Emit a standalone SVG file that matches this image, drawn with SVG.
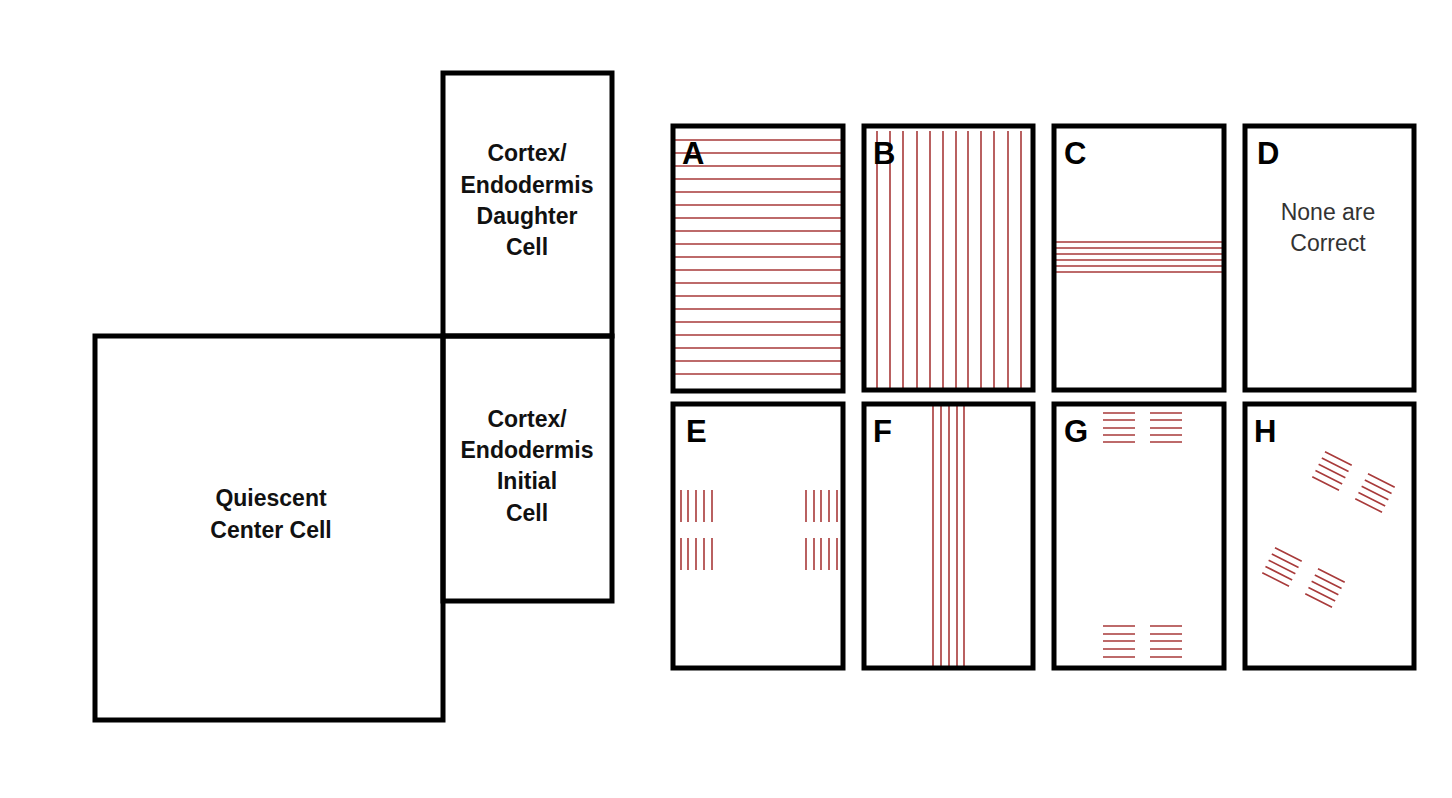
<svg xmlns="http://www.w3.org/2000/svg" width="1452" height="798" viewBox="0 0 1452 798">
<style>
.box{fill:none;stroke:#000;stroke-width:5}
.lbl{font-family:"Liberation Sans",Arial,Helvetica,sans-serif;font-weight:bold;font-size:23px;text-anchor:middle;fill:#111}
.let{font-family:"Liberation Sans",Arial,Helvetica,sans-serif;font-weight:bold;font-size:31px;fill:#000}
.nt{font-family:"Liberation Sans",Arial,Helvetica,sans-serif;font-size:23px;text-anchor:middle;fill:#333}
.r{stroke:#a83a3a;stroke-width:1.6}
</style>
<rect width="1452" height="798" fill="#fff"/>
<g id="qc"><rect class="box" x="95" y="336" width="348" height="384"/>
<text class="lbl" x="271" y="506">Quiescent</text><text class="lbl" x="271" y="538">Center  Cell</text></g>
<g id="daughter"><rect class="box" x="443" y="73" width="169" height="263"/>
<text class="lbl" x="527" y="161">Cortex/</text><text class="lbl" x="527" y="193">Endodermis</text><text class="lbl" x="527" y="224">Daughter</text><text class="lbl" x="527" y="255">Cell</text></g>
<g id="initial"><rect class="box" x="443" y="336" width="169" height="265"/>
<text class="lbl" x="527" y="427">Cortex/</text><text class="lbl" x="527" y="458">Endodermis</text><text class="lbl" x="527" y="489">Initial</text><text class="lbl" x="527" y="521">Cell</text></g>
<g id="A"><g class="r">
<path d="M673 140H841M673 153H841M673 166H841M673 179H841M673 192H841M673 205H841M673 218H841M673 231H841M673 244H841M673 257H841M673 270H841M673 283H841M673 296H841M673 309H841M673 322H841M673 335H841M673 348H841M673 361H841M673 374H841"/></g>
<text class="let" x="682" y="164">A</text>
<rect class="box" x="673" y="126" width="170" height="265"/></g>
<g id="B"><g class="r">
<path d="M877 131V390M890 131V390M903 131V390M917 131V390M930 131V390M943 131V390M956 131V390M968 131V390M981 131V390M994 131V390M1008 131V390M1021 131V390"/></g>
<text class="let" x="873" y="164">B</text>
<rect class="box" x="864" y="126" width="169" height="264"/></g>
<g id="C"><g class="r"><path d="M1055 242H1224M1055 248H1224M1055 254H1224M1055 260H1224M1055 266H1224M1055 272H1224"/></g>
<text class="let" x="1064" y="164">C</text>
<rect class="box" x="1054" y="126" width="170" height="264"/></g>
<g id="D"><text class="let" x="1257" y="164">D</text>
<text class="nt" x="1328" y="220">None  are</text>
<text class="nt" x="1328" y="251">Correct</text>
<rect class="box" x="1245" y="126" width="169" height="264"/></g>
<g id="E"><g class="r"><path d="M681 490V522M688 490V522M696 490V522M704 490V522M712 490V522M681 538V570M688 538V570M696 538V570M704 538V570M712 538V570M806 490V522M814 490V522M821 490V522M829 490V522M837 490V522M806 538V570M814 538V570M821 538V570M829 538V570M837 538V570"/></g>
<text class="let" x="686" y="442">E</text>
<rect class="box" x="673" y="404" width="170" height="264"/></g>
<g id="F"><g class="r"><path d="M933 404V670M941 404V670M949 404V670M957 404V670M964 404V670"/></g>
<text class="let" x="873" y="442">F</text>
<rect class="box" x="864" y="404" width="169" height="264"/></g>
<g id="G"><g class="r"><path d="M1103 413H1135M1103 420H1135M1103 428H1135M1103 435H1135M1103 442H1135M1150 413H1182M1150 420H1182M1150 428H1182M1150 435H1182M1150 442H1182M1103 626H1135M1103 634H1135M1103 641H1135M1103 649H1135M1103 657H1135M1150 626H1182M1150 634H1182M1150 641H1182M1150 649H1182M1150 657H1182"/></g>
<text class="let" x="1064" y="442">G</text>
<rect class="box" x="1054" y="404" width="170" height="264"/></g>
<g id="H"><defs><path id="hg" class="r" d="M-15 -14H15M-15 -7H15M-15 0H15M-15 7H15M-15 14H15"/></defs>
<use href="#hg" transform="translate(1332 471) rotate(27)"/>
<use href="#hg" transform="translate(1375 493) rotate(27)"/>
<use href="#hg" transform="translate(1282 567) rotate(27)"/>
<use href="#hg" transform="translate(1325 588) rotate(27)"/>
<text class="let" x="1254" y="442">H</text>
<rect class="box" x="1245" y="404" width="169" height="264"/></g>
</svg>
